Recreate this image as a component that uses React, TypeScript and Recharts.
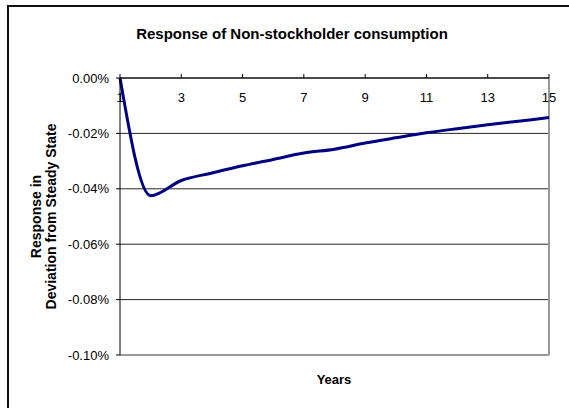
import { LineChart, Line, XAxis, YAxis, CartesianGrid, ReferenceLine, Label } from "recharts";

const years = [1, 2, 3, 4, 5, 6, 7, 8, 9, 10, 11, 12, 13, 14, 15];
const response = [0, -0.0425, -0.037, -0.0343, -0.0317, -0.0294, -0.0271, -0.0257, -0.0235, -0.0216, -0.0198, -0.0183, -0.0169, -0.0156, -0.0143];
const xTicks = [1, 3, 5, 7, 9, 11, 13, 15];
const yTicks = [0, -0.02, -0.04, -0.06, -0.08, -0.1];

const data = years.map((year, i) => ({ year, value: response[i] }));

const font = "Arial, 'Liberation Sans', sans-serif";

function TopTick(props: any) {
  const { x, y, payload } = props;
  return (
    <text x={x} y={y + 30} textAnchor="middle" fontFamily={font} fontSize={13} fill="#000">
      {payload.value}
    </text>
  );
}

function YTitle(props: any) {
  const { viewBox } = props;
  const cx = 44;
  const cy = viewBox.y + viewBox.height / 2;
  return (
    <text
      transform={`translate(${cx},${cy}) rotate(-90)`}
      textAnchor="middle"
      fontFamily={font}
      fontSize={14}
      fontWeight="bold"
      fill="#000"
    >
      <tspan x={0} dy={-3}>Response in</tspan>
      <tspan x={0} dy={15}>Deviation from Steady State</tspan>
    </text>
  );
}

export default function App() {
  return (
    <div style={{ position: "absolute", left: 0, top: 0, width: 569, height: 408, overflow: "hidden", background: "#fff" }}>
      <div style={{ position: "absolute", left: 7, top: 5, width: 600, height: 500, borderLeft: "2px solid #111", borderTop: "2px solid #111" }} />
      <div
        style={{
          position: "absolute",
          left: 0,
          top: 25,
          width: 584,
          textAlign: "center",
          fontFamily: font,
          fontSize: 15,
          fontWeight: "bold",
        }}
      >
        Response of Non-stockholder consumption
      </div>
      <div style={{ position: "absolute", left: 0, top: 0 }}>
        <LineChart width={569} height={408} data={data} margin={{ top: 58, right: 20, bottom: 53, left: 60 }}>
          <CartesianGrid horizontal vertical={false} stroke="#000" strokeOpacity={0.85} />
          <XAxis
            dataKey="year"
            type="number"
            domain={[1, 15]}
            ticks={xTicks}
            interval={0}
            orientation="top"
            height={20}
            tickSize={4}
            stroke="#000"
            tick={<TopTick />}
          />
          <YAxis
            type="number"
            domain={[-0.1, 0]}
            ticks={yTicks}
            interval={0}
            width={60}
            tickSize={4}
            tickMargin={7}
            stroke="#000"
            tick={{ fill: "#000", fontFamily: font, fontSize: 13 }}
            tickFormatter={(v: number) => `${v.toFixed(2)}%`}
          >
            <Label content={<YTitle />} />
          </YAxis>
          <ReferenceLine y={-0.1} stroke="#9a9a9a" strokeWidth={2} />
          <ReferenceLine x={15} stroke="#9a9a9a" strokeWidth={2} />
          <Line
            type="monotone"
            dataKey="value"
            stroke="#000080"
            strokeWidth={3}
            dot={false}
            isAnimationActive={false}
          />
        </LineChart>
      </div>
      <div
        style={{
          position: "absolute",
          left: 284,
          top: 372,
          width: 100,
          textAlign: "center",
          fontFamily: font,
          fontSize: 13,
          fontWeight: "bold",
        }}
      >
        Years
      </div>
    </div>
  );
}
